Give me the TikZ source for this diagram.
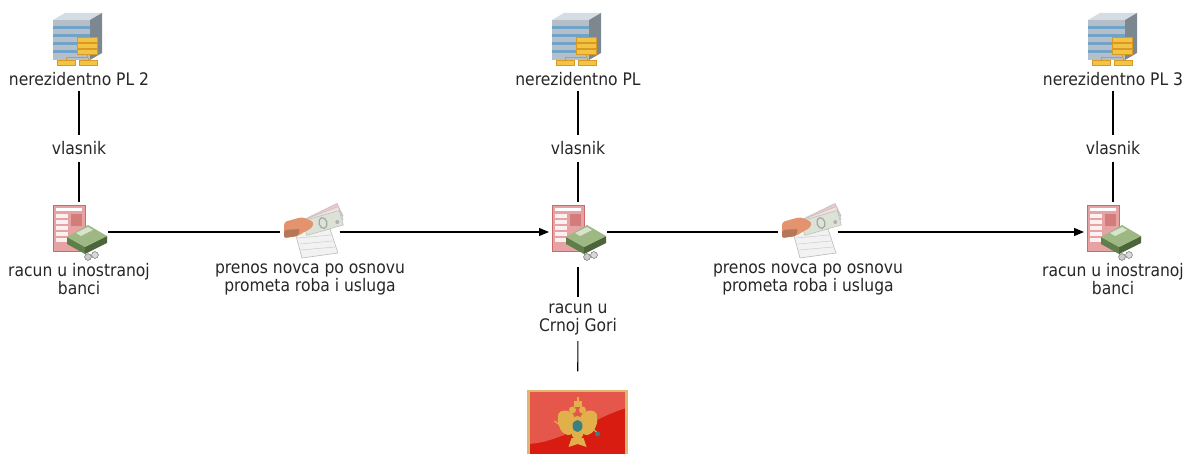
\documentclass[tikz,border=0pt]{standalone}
\usepackage{fontspec}
\setmainfont{DejaVu Sans Condensed}
\usetikzlibrary{arrows.meta, positioning}

\definecolor{srvtop}{HTML}{D5DCE3}
\definecolor{srvfront}{HTML}{B4BFC9}
\definecolor{srvside}{HTML}{7D8790}
\definecolor{srvblue}{HTML}{6FA3C8}
\definecolor{chart}{HTML}{F3C443}
\definecolor{chartdark}{HTML}{D89A22}
\definecolor{formpink}{HTML}{E7A3A3}
\definecolor{formdark}{HTML}{C96B6B}
\definecolor{cash}{HTML}{9DB882}
\definecolor{cashdark}{HTML}{5F7F4A}
\definecolor{skin}{HTML}{E3946E}
\definecolor{billpink}{HTML}{E9C9CC}
\definecolor{billgreen}{HTML}{DCE3D6}
\definecolor{flagred}{HTML}{D81C12}
\definecolor{flaglight}{HTML}{E4574A}
\definecolor{gold}{HTML}{E2B04A}
\definecolor{goldframe}{HTML}{DDB873}

\tikzset{
  lbl/.style={align=center, inner sep=5pt, text=black!85,
    font=\fontsize{17.3}{18}\selectfont},
  server/.style={minimum width=50, minimum height=52, inner sep=0pt},
  account/.style={minimum width=54, minimum height=56, inner sep=0pt, outer sep=2pt},
  transfer/.style={minimum width=58, minimum height=54, inner sep=0pt},
  flag/.style={minimum width=98, minimum height=66, inner sep=0pt},
  % icons
  srvpic/.pic={
    \fill[srvtop] (-25,-19) -- (-13,-26) -- (24,-26) -- (12,-19) -- cycle;
    \fill[srvside] (12,-19) -- (24,-26) -- (24,14) -- (12,21) -- cycle;
    \fill[srvfront] (-25,-19) rectangle (12,21);
    \foreach \yy in {-13,-5,3,11}
      \fill[srvblue] (-25,\yy) rectangle (12,\yy+3);
    \draw[chartdark, line width=1pt] (9,16) -- (9,19) (-12,19) -- (10,19)
      (-12,19) -- (-12,21) (10,19) -- (10,21);
    \foreach \yy in {-2,4,10}
      \filldraw[fill=chart, draw=chartdark, line width=.4pt] (-1,\yy) rectangle (19,\yy+5);
    \filldraw[fill=chart, draw=chartdark, line width=.4pt] (-21,21) rectangle (-3,26);
    \filldraw[fill=chart, draw=chartdark, line width=.4pt] (1,21) rectangle (19,26);
  },
  acctpic/.pic={
    \filldraw[fill=formpink, draw=formdark, line width=.6pt] (-26,-27) rectangle (6,19);
    \fill[white] (-23,-24) rectangle (3,-21);
    \foreach \yy in {-18,-12,-6,0,6}
      \fill[white!85!formpink] (-23,\yy) rectangle (-11,\yy+4);
    \fill[formdark!70!formpink] (-8,-18) rectangle (3,-6);
    \fill[cashdark] (-12,5) -- (6,15) -- (6,22) -- (-12,12) -- cycle;
    \fill[cashdark!80!black] (6,15) -- (28,4) -- (28,11) -- (6,22) -- cycle;
    \fill[cash] (-12,5) -- (9,-7) -- (28,4) -- (6,15) -- cycle;
    \fill[white!60!cash] (-3,1) -- (9,-5) -- (14,-2) -- (2,4) -- cycle;
    \filldraw[fill=gray!40, draw=gray!70!black, line width=.4pt] (9,25) circle (3.4);
    \filldraw[fill=gray!30, draw=gray!70!black, line width=.4pt] (16,23) circle (3.4);
  },
  xferpic/.pic={
    \filldraw[fill=gray!10, draw=gray!55, line width=.6pt]
      (-15,0) -- (20,-3) -- (28,21) -- (-8,26) -- cycle;
    \draw[gray!40, line width=.5pt] (-12,6) -- (21,3) (-10,12) -- (23,9) (-9,18) -- (25,15);
    \begin{scope}[shift={(13,-14)}, rotate=26]
      \filldraw[fill=billpink, draw=gray!55, line width=.4pt] (-19,-7) rectangle (19,7);
    \end{scope}
    \begin{scope}[shift={(13,-12)}, rotate=21]
      \filldraw[fill=billpink!60!white, draw=gray!55, line width=.4pt] (-19,-7) rectangle (19,7);
    \end{scope}
    \begin{scope}[shift={(13,-9)}, rotate=16]
      \filldraw[fill=billgreen, draw=gray!60, line width=.4pt] (-19,-7.5) rectangle (19,7.5);
      \draw[gray!70, line width=1.2pt] (0,0) ellipse (4 and 5.5);
      \fill[gray!60] (-14,-4) circle (2) (14,3) circle (2);
    \end{scope}
    \fill[skin, rounded corners=3pt] (-26,-10) -- (-8,-15) -- (4,-10) -- (2,-4)
      -- (-6,0) -- (-12,4) -- (-26,6) -- cycle;
    \fill[skin!80!black, rounded corners=2pt] (-26,-2) -- (-10,-3) -- (-12,4) -- (-26,6) -- cycle;
  },
  flagpic/.pic={
    \fill[flagred] (-49,-33) rectangle (49,33);
    \fill[flaglight] (-49,-33) -- (49,-33) -- (49,-16)
      .. controls (20,-8) and (-15,18) .. (-49,20) -- cycle;
    \fill[gold, rounded corners=2pt] (-3,-9) -- (-11,-14) -- (-19,-12) -- (-20,-2)
      -- (-16,8) -- (-8,12) -- (-3,6) -- cycle;
    \fill[gold, rounded corners=2pt] (3,-9) -- (11,-14) -- (19,-12) -- (20,-2)
      -- (16,8) -- (8,12) -- (3,6) -- cycle;
    \fill[gold] (0,4) ellipse (7 and 12);
    \fill[gold] (-5,-14) circle (3.5) (5,-14) circle (3.5);
    \fill[gold] (-4,-23) rectangle (4,-17);
    \fill[gold] (-1,-27) rectangle (1,-23);
    \fill[gold] (-6,14) -- (6,14) -- (9,23) -- (0,20) -- (-9,23) -- cycle;
    \fill[teal!55!gray] (0,2) ellipse (5 and 6);
    \draw[gold, line width=1.2pt] (-14,4) -- (-23,-3) (14,4) -- (20,9);
    \fill[teal!55!gray] (20,10) circle (2.5);
    \draw[goldframe, line width=2.5pt] (-49,-33) rectangle (49,33);
  }
}

\begin{document}
\begin{tikzpicture}[x=1pt, y=-1pt, line width=1.1pt]
  \useasboundingbox (0,0) rectangle (1186,454);

  % Nodes
  \node[server] (srvA) at (78,39) {};
  \node[lbl] (nrA) at (79,79) {nerezidentno PL 2};
  \node[lbl, inner sep=6pt] (ownA) at (79,148.5) {vlasnik};
  \node[account] (accA) at (79,232) {};
  \node[lbl] (bankA) at (79,279) {racun u inostranoj\\banci};

  \node[server] (srvB) at (577,39) {};
  \node[lbl] (nrB) at (578,79) {nerezidentno PL};
  \node[lbl, inner sep=6pt] (ownB) at (578,148.5) {vlasnik};
  \node[account] (accB) at (578,232) {};
  \node[lbl, inner sep=6pt] (bankB) at (578,319) {racun u\\Crnoj Gori};
  \node[flag] (me) at (577.5,424) {};

  \node[server] (srvC) at (1113,39) {};
  \node[lbl] (nrC) at (1113,79) {nerezidentno PL 3};
  \node[lbl, inner sep=6pt] (ownC) at (1113,148.5) {vlasnik};
  \node[account] (accC) at (1113,232) {};
  \node[lbl] (bankC) at (1113,279) {racun u inostranoj\\banci};

  \node[transfer] (xfA) at (310,232) {};
  \node[lbl] (payA) at (310,279) {prenos novca po osnovu\\prometa roba i usluga};
  \node[transfer] (xfB) at (808,232) {};
  \node[lbl] (payB) at (808,279) {prenos novca po osnovu\\prometa roba i usluga};

  % Icons
  \foreach \n in {srvA, srvB, srvC} \pic at (\n.center) {srvpic};
  \foreach \n in {accA, accB, accC} \pic at (\n.center) {acctpic};
  \foreach \n in {xfA, xfB} \pic at (\n.center) {xferpic};
  \pic at (me.center) {flagpic};

  % Edges
  \draw (nrA) -- (ownA);
  \draw (ownA) -- (accA);
  \draw (nrB) -- (ownB);
  \draw (ownB) -- (accB);
  \draw (nrC) -- (ownC);
  \draw (ownC) -- (accC);
  \draw (accA) -- (xfA);
  \draw[-{Triangle[length=10pt, width=8pt]}] (xfA) -- (accB);
  \draw (accB) -- (xfB);
  \draw[-{Triangle[length=10pt, width=8pt]}] (xfB) -- (accC);
  \draw[shorten <=5pt] (accB) -- (bankB);
  \draw[shorten >=19pt] (bankB) -- (me);
\end{tikzpicture}
\end{document}
